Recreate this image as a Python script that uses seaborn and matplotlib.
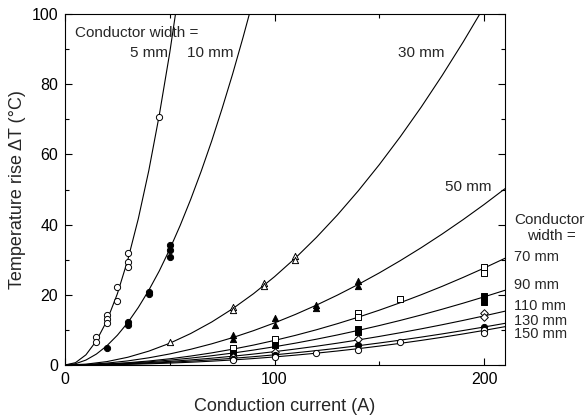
import matplotlib
matplotlib.use("Agg")
import matplotlib.pyplot as plt
import pandas as pd
import seaborn as sns
from matplotlib.ticker import MultipleLocator

sns.set_style("ticks")
plt.rcParams['font.family'] = ['Liberation Sans', 'DejaVu Sans']

# measured points (current A, temperature rise degC) per conductor width
w5_x = [15, 15, 20, 20, 20, 25, 25, 30, 30, 30, 45]
w5_y = [8.1, 6.6, 14.2, 13.0, 11.9, 22.3, 18.3, 32.0, 29.4, 28.0, 70.7]
w10_x = [20, 30, 30, 40, 40, 50, 50, 50]
w10_y = [4.9, 12.3, 11.3, 20.9, 20.2, 34.2, 32.8, 30.7]
w30_x = [50, 80, 80, 95, 95, 110, 110]
w30_y = [6.5, 16.5, 15.8, 23.3, 22.5, 31.0, 30.0]
w50_x = [80, 80, 100, 100, 120, 120, 140, 140]
w50_y = [8.5, 7.5, 13.3, 11.4, 17.0, 16.2, 24.0, 22.4]
w70_x = [80, 100, 140, 140, 160, 200, 200]
w70_y = [4.8, 7.3, 14.7, 13.6, 18.7, 28.0, 26.1]
w90_x = [80, 100, 140, 140, 200, 200]
w90_y = [3.3, 5.7, 10.3, 9.3, 19.6, 18.0]
w110_x = [80, 100, 140, 200, 200]
w110_y = [2.2, 3.8, 7.3, 14.7, 13.8]
w130_x = [80, 100, 140, 200]
w130_y = [1.8, 2.8, 5.7, 10.9]
w150_x = [80, 100, 120, 140, 160, 200, 200]
w150_y = [1.4, 2.2, 3.5, 4.3, 6.6, 10.0, 9.0]

# fitted curves
fit5_x = [0, 5, 10, 15, 20, 25, 30, 35, 40, 45, 50, 55]
fit5_y = [0, 0.66, 2.9, 6.9, 12.6, 20.3, 30, 41.7, 55.4, 71.2, 89.0, 109.1]
fit10_x = [0, 5, 10, 15, 20, 25, 30, 35, 40, 45, 50, 55, 60, 65, 70, 75, 80, 85, 90]
fit10_y = [0, 0.36, 1.41, 3.12, 5.48, 8.48, 12.1, 16.4, 21.3, 26.8, 33.0, 39.8,
           47.2, 55.2, 63.8, 73.1, 82.9, 93.4, 104.4]
fit_x = [0, 10, 20, 30, 40, 50, 60, 70, 80, 90, 100, 110, 120, 130, 140, 150,
         160, 170, 180, 190, 200, 210]
fit30_y = [0, 0.24, 0.97, 2.21, 3.95, 6.20, 8.97, 12.24, 16.03, 20.33, 25.16, 30.50,
           36.36, 42.74, 49.65, 57.08, 65.02, 73.48, 82.49, 92.01, 102.04, 112.5]
fit50_y = [0, 0.14, 0.54, 1.17, 2.05, 3.15, 4.48, 6.03, 7.80, 9.79, 12.0, 14.42,
           17.06, 19.91, 22.97, 26.24, 29.73, 33.42, 37.32, 41.42, 45.72, 50.24]
fit70_y = [0, 0.07, 0.29, 0.65, 1.14, 1.77, 2.55, 3.45, 4.50, 5.68, 7.0, 8.45,
           10.04, 11.77, 13.63, 15.62, 17.75, 20.02, 22.41, 24.95, 27.61, 30.41]
fit90_y = [0, 0.07, 0.24, 0.53, 0.91, 1.39, 1.97, 2.64, 3.40, 4.26, 5.2, 6.23,
           7.35, 8.56, 9.86, 11.24, 12.70, 14.25, 15.89, 17.61, 19.41, 21.29]
fit110_y = [0, 0.05, 0.18, 0.40, 0.68, 1.03, 1.45, 1.94, 2.50, 3.12, 3.8, 4.55,
            5.35, 6.22, 7.15, 8.14, 9.19, 10.30, 11.47, 12.70, 13.99, 15.33]
fit130_y = [0, 0.04, 0.14, 0.29, 0.51, 0.78, 1.10, 1.47, 1.90, 2.37, 2.90, 3.48,
            4.10, 4.77, 5.50, 6.27, 7.08, 7.95, 8.86, 9.82, 10.82, 11.87]
fit150_y = [0, 0.02, 0.08, 0.18, 0.34, 0.54, 0.79, 1.09, 1.44, 1.84, 2.3, 2.81,
            3.37, 3.99, 4.66, 5.39, 6.17, 7.01, 7.90, 8.85, 9.86, 10.92]

series = [
    (w5_x, w5_y, 'o', 'white'),
    (w10_x, w10_y, 'o', 'black'),
    (w30_x, w30_y, '^', 'white'),
    (w50_x, w50_y, '^', 'black'),
    (w70_x, w70_y, 's', 'white'),
    (w90_x, w90_y, 's', 'black'),
    (w110_x, w110_y, 'D', 'white'),
    (w130_x, w130_y, 'o', 'black'),
    (w150_x, w150_y, 'o', 'white'),
]
curves = [(fit5_x, fit5_y), (fit10_x, fit10_y), (fit_x, fit30_y), (fit_x, fit50_y),
          (fit_x, fit70_y), (fit_x, fit90_y), (fit_x, fit110_y), (fit_x, fit130_y),
          (fit_x, fit150_y)]

fig = plt.figure(figsize=(5.86, 4.16), dpi=100)
ax = fig.add_axes([0.1109, 0.1226, 0.7509, 0.8437])

for cx, cy in curves:
    sns.lineplot(x=cx, y=cy, color='black', linewidth=0.8, ax=ax, zorder=2)

for px, py, mk, fc in series:
    df = pd.DataFrame({'current': px, 'rise': py})
    sns.scatterplot(data=df, x='current', y='rise', marker=mk, s=20 if mk != 'D' else 15,
                    facecolor=fc, edgecolor='black', linewidth=0.7, ax=ax, zorder=3)

ax.set_xlim(0, 210)
ax.set_ylim(0, 100)
ax.xaxis.set_major_locator(MultipleLocator(100))
ax.xaxis.set_minor_locator(MultipleLocator(50))
ax.yaxis.set_major_locator(MultipleLocator(20))
ax.yaxis.set_minor_locator(MultipleLocator(10))
ax.tick_params(which='both', direction='in', top=True, right=True, width=0.8,
               labelsize=11.5, colors='black')
ax.tick_params(which='major', length=5, pad=5)
ax.tick_params(which='minor', length=3)
for sp in ax.spines.values():
    sp.set_linewidth(0.8)
    sp.set_color('black')

ax.set_xlabel('Conduction current (A)', fontsize=13, labelpad=8)
ax.set_ylabel('Temperature rise ΔT (°C)', fontsize=13)
ax.yaxis.set_label_coords(-0.088, 0.5)

ax.text(4.8, 94.6, 'Conductor width =', fontsize=11, va='center', ha='left')
ax.text(31, 88.9, '5 mm', fontsize=11, va='center', ha='left')
ax.text(58, 88.9, '10 mm', fontsize=11, va='center', ha='left')
ax.text(159, 88.9, '30 mm', fontsize=11, va='center', ha='left')
ax.text(203.5, 50.6, '50 mm', fontsize=11, va='center', ha='right')

right_labels = ['70 mm', '90 mm', '110 mm', '130 mm', '150 mm']
right_y = [30.8, 22.8, 16.8, 12.4, 8.7]
ax.text(214.5, 41.3, 'Conductor', fontsize=11, va='center', ha='left', clip_on=False)
ax.text(232, 36.8, 'width =', fontsize=11, va='center', ha='center', clip_on=False)
for lab, yv in zip(right_labels, right_y):
    ax.text(214.5, yv, lab, fontsize=10.5, va='center', ha='left', clip_on=False)

fig.savefig('out.png', dpi=100)
